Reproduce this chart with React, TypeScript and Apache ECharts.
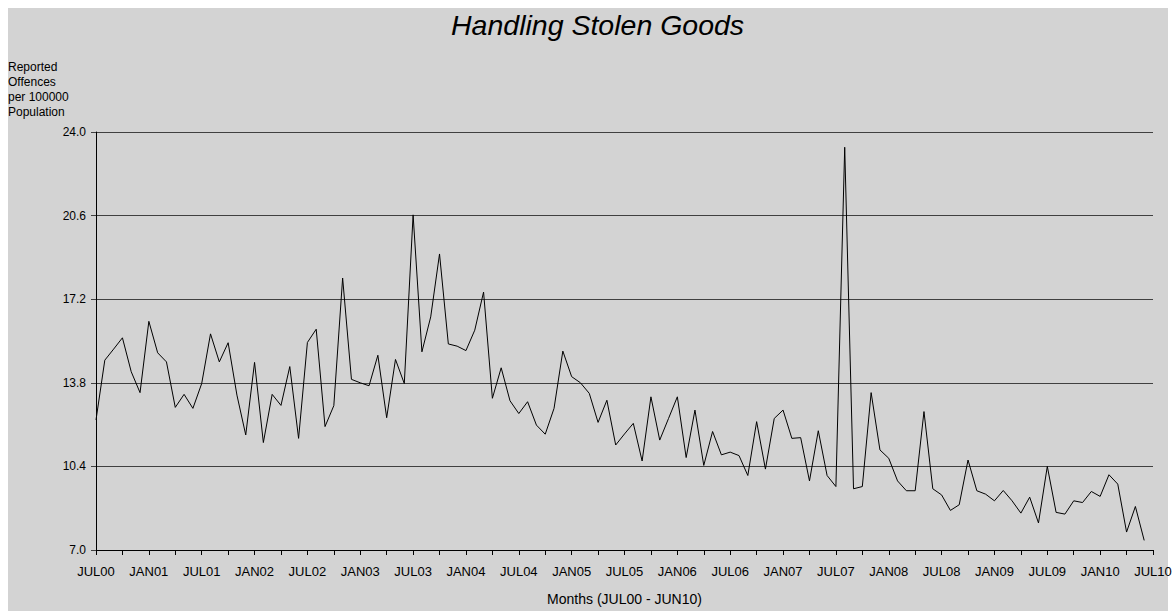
import React, { useEffect, useRef } from "react";
import * as echarts from "echarts";

const TITLE = "Handling Stolen Goods";
const Y_NAME = "Reported\nOffences\nper 100000\nPopulation";
const X_NAME = "Months (JUL00 - JUN10)";
const MONTH_NAMES = ["JAN", "FEB", "MAR", "APR", "MAY", "JUN", "JUL", "AUG", "SEP", "OCT", "NOV", "DEC"];
// monthly categories JUL00 .. JUL10 (121 positions, last one is the axis end)
const categories: string[] = [];
for (let i = 0; i <= 120; i++) {
  const m = (6 + i) % 12;
  const y = Math.floor((6 + i) / 12);
  categories.push(MONTH_NAMES[m] + String(y).padStart(2, "0"));
}
// Y axis range / ticks
const Y_MIN = 7.0;
const Y_MAX = 24.0;
const Y_STEP = 3.4;

const offences: number[] = [
  12.29, 14.72, 15.17, 15.63, 14.25, 13.40, 16.30, 15.02, 14.65, 12.80,
  13.33, 12.76, 13.77, 15.79, 14.65, 15.43, 13.30, 11.68, 14.63, 11.37,
  13.33, 12.88, 14.46, 11.54, 15.44, 15.98, 12.02, 12.87, 18.06, 13.94,
  13.80, 13.68, 14.92, 12.38, 14.75, 13.77, 20.63, 15.06, 16.48, 19.04,
  15.38, 15.29, 15.11, 15.94, 17.49, 13.17, 14.41, 13.07, 12.55, 13.03,
  12.08, 11.71, 12.76, 15.09, 14.05, 13.80, 13.37, 12.19, 13.09, 11.27,
  11.72, 12.15, 10.62, 13.23, 11.47, 12.35, 13.23, 10.76, 12.69, 10.44,
  11.82, 10.87, 10.98, 10.84, 10.03, 12.22, 10.29, 12.35, 12.69, 11.54,
  11.57, 9.81, 11.85, 10.03, 9.58, 23.38, 9.49, 9.58, 13.40, 11.07,
  10.73, 9.81, 9.41, 9.41, 12.63, 9.49, 9.24, 8.61, 8.84, 10.66,
  9.41, 9.27, 9.00, 9.42, 9.00, 8.50, 9.15, 8.10, 10.40, 8.53,
  8.46, 9.00, 8.93, 9.38, 9.18, 10.06, 9.68, 7.73, 8.77, 7.39,
];

const FONT = "'Liberation Sans', Arial, Helvetica, sans-serif";

export default function App() {
  const ref = useRef<HTMLDivElement>(null);
  useEffect(() => {
    if (!ref.current) return;
    const chart = echarts.init(ref.current, undefined, { renderer: "svg" });
    // axis runs from 0 (= Y_MIN) so that ticks fall on Y_MIN + k*Y_STEP
    const seriesData = offences.map((v) => +(v - Y_MIN).toFixed(4));
    chart.setOption({
      animation: false,
      backgroundColor: "transparent",
      textStyle: { fontFamily: FONT },
      title: {
        text: TITLE,
        left: 446,
        top: 5,
        textStyle: { fontFamily: FONT, fontSize: 28.5, fontStyle: "italic", fontWeight: "normal", color: "#000" },
      },
      graphic: [
        {
          type: "text",
          left: 8,
          top: 59,
          style: { text: Y_NAME, font: `12px ${FONT}`, fill: "#000", lineHeight: 15 },
        },
      ],
      grid: { left: 96, right: 23, top: 132, bottom: 59, containLabel: false },
      xAxis: {
        type: "category",
        data: categories,
        boundaryGap: false,
        name: X_NAME,
        nameLocation: "middle",
        nameGap: 42,
        nameTextStyle: { fontFamily: FONT, fontSize: 14, color: "#000" },
        axisLine: { show: true, lineStyle: { color: "#000", width: 1 } },
        axisTick: { show: true, interval: 2, length: 5, lineStyle: { color: "#000" } },
        axisLabel: { interval: 5, margin: 15, fontFamily: FONT, fontSize: 13, color: "#000" },
        splitLine: { show: false },
      },
      yAxis: {
        type: "value",
        min: 0,
        max: +(Y_MAX - Y_MIN).toFixed(4),
        interval: Y_STEP,
        axisLine: { show: true, lineStyle: { color: "#000", width: 1 } },
        axisTick: { show: true, length: 5, lineStyle: { color: "#404040" } },
        axisLabel: {
          margin: 10,
          fontFamily: FONT,
          fontSize: 12,
          color: "#000",
          formatter: (v: number) => (v + Y_MIN).toFixed(1),
        },
        splitLine: { show: true, lineStyle: { color: "#404040", width: 1 } },
      },
      series: [
        {
          type: "line",
          data: seriesData,
          showSymbol: false,
          symbol: "none",
          lineStyle: { color: "#000", width: 1 },
          itemStyle: { color: "#000" },
        },
      ],
    });
    return () => chart.dispose();
  }, []);
  return (
    <div style={{ position: "fixed", left: 0, top: 0, width: 1176, height: 611, background: "#fff" }}>
      <div
        style={{ position: "absolute", left: 8, top: 8, width: 1160, height: 603, background: "#d3d3d3" }}
      />
      <div
        ref={ref}
        style={{ position: "absolute", left: 0, top: 0, width: 1176, height: 611 }}
      />
    </div>
  );
}
